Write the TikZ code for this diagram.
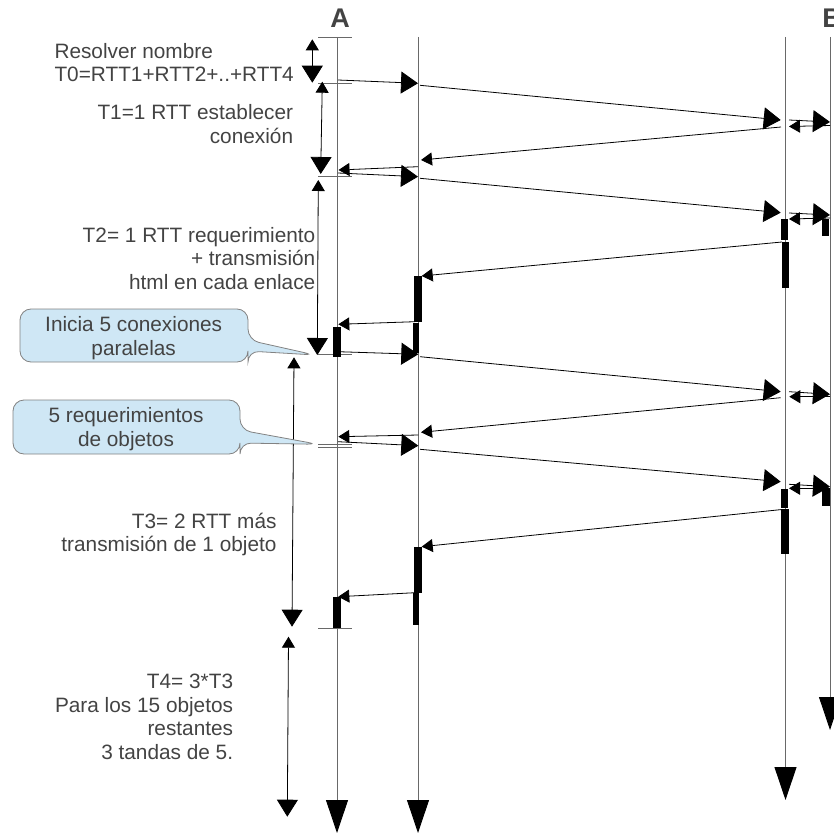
\documentclass[tikz,border=0pt]{standalone}
\usepackage{fontspec}
\setmainfont{Liberation Sans}
\usetikzlibrary{arrows.meta}
\definecolor{txtgray}{RGB}{67,67,67}
\definecolor{linegray}{RGB}{105,105,105}
\definecolor{bubblefill}{RGB}{207,231,245}
\definecolor{bubbledraw}{RGB}{130,130,130}

\begin{document}
\begin{tikzpicture}[x=1pt,y=-1pt,
    lbl/.style={text=txtgray,font=\fontsize{20.8}{23.5}\selectfont,inner sep=0pt},
    head/.style={text=txtgray,font=\bfseries\fontsize{27}{30}\selectfont,inner sep=0pt},
    lifeline/.style={draw=linegray,line width=0.9pt,-{Triangle[length=33pt,width=22pt,color=black]}},
    msg/.style={line width=0.8pt,-{Triangle[length=17pt,width=22pt]}},
    ack/.style={line width=0.8pt,-{Triangle[length=11pt,width=13pt]}},
    span/.style={line width=0.8pt,{Triangle[length=11pt,width=13pt]}-{Triangle[length=17pt,width=21pt]}},
    tick/.style={draw=linegray,line width=0.8pt},
    bubble/.style={fill=bubblefill,draw=bubbledraw,line width=0.8pt,rounded corners=11pt}]
    \useasboundingbox (0,0) rectangle (833,834);
    \def\xA{337}
    \def\xM{418}
    \def\xR{785.5}
    \def\xB{830}

    % Lifelines
    \draw[lifeline] (\xA,37) -- (\xA,833);
    \draw[lifeline] (\xM,37) -- (\xM,833);
    \draw[lifeline] (\xR,37) -- (\xR,800);
    \draw[lifeline] (\xB,37) -- (\xB,730);
    \node[head] (hA) at (340,18) {A};
    \node[head] (hB) at (832,18) {B};

    % Ticks on A
    \foreach \y in {37.3,83.3,176,354.3,444,447.3,628.3} {
        \draw[tick] (318.3,\y) -- (351.7,\y);
      }

    % Time spans
    \draw[span] (312.3,39.3) -- (312.3,82.7);
    \draw[span] (322.3,81.7) -- (320.7,174);
    \draw[span] (318.3,180) -- (317.3,355);
    \draw[span] (294,357.3) -- (292,626.7);
    \draw[span] (288.5,636.7) -- (287.3,816.7);

    % Connection 1
    \draw[msg] (338,80) -- (\xM,83.3);
    \draw[msg] (420,85.3) -- (780.7,120);
    \draw[msg] (789,120) -- (\xB,122);
    \draw[ack] (\xB,125.5) -- (789,126.5);
    \draw[ack] (781,127) -- (421,160);
    \draw[ack] (418,166.7) -- (338.5,170);
    \draw[msg] (338,173) -- (\xM,176.7);

    % html
    \draw[msg] (420,178.3) -- (780.7,212.7);
    \draw[msg] (789,213) -- (\xB,215);
    \draw[ack] (\xB,218) -- (789,219);
    \fill (822,219) rectangle (829.3,236);
    \fill (780.7,219) rectangle (788.3,240);
    \fill (781.7,241.7) rectangle (788.7,288);
    \draw[ack] (782,242) -- (421.7,276);
    \fill (414.3,276) rectangle (421.7,321.7);
    \fill (412.7,322.7) rectangle (419.3,353.3);
    \draw[ack] (415,321.7) -- (338.3,324.3);
    \fill (333.3,326.7) rectangle (340.7,356.7);
    \draw[msg] (338.3,351.7) -- (418.3,354.3);

    % Connection 2
    \draw[msg] (420,356.7) -- (780.7,391.7);
    \draw[msg] (789,391.7) -- (\xB,394.3);
    \draw[ack] (\xB,396.7) -- (789.3,396.7);
    \draw[ack] (780.7,397.7) -- (421,432.3);
    \draw[ack] (418.3,435) -- (338.3,436.7);
    \draw[msg] (338,441.7) -- (418.3,445.7);

    % Objects
    \draw[msg] (420,449.3) -- (780.7,481.7);
    \draw[msg] (789,484.3) -- (\xB,486.7);
    \draw[ack] (\xB,488.3) -- (789,488.3);
    \fill (822.3,488) rectangle (830,506);
    \fill (780.7,489) rectangle (788,508);
    \fill (781,509) rectangle (789,554);
    \draw[ack] (782,509.5) -- (421.7,546.7);
    \fill (414.3,546.7) rectangle (422,593.3);
    \fill (412.7,593.3) rectangle (419.3,625);
    \draw[ack] (415,592.7) -- (338.3,596.7);
    \fill (333.3,597.3) rectangle (341,628.3);

    % Callouts
    \draw[bubble] (315,355) -- (248,340) -- (248,309) -- (20,309) -- (20,362) -- (248,362) -- (248,351) -- cycle;
    \node[lbl,align=center,anchor=base] (inicia) at (133.7,355) {Inicia 5 conexiones\\paralelas};
    \draw[bubble] (318.3,444.3) -- (240,430) -- (240,400) -- (13,400) -- (13,454) -- (240,454) -- (240,443) -- cycle;
    \node[lbl,align=center,anchor=base] (reqs) at (126,446) {5 requerimientos\\de objetos};

    % Labels
    \node[lbl,align=left,anchor=base west] (t0) at (54.3,81.7) {Resolver nombre\\T0=RTT1+RTT2+..+RTT4};
    \node[lbl,align=right,anchor=base east] (t1) at (293.3,143.3) {T1=1 RTT establecer\\conexión};
    \node[lbl,align=right,anchor=base east] (t2) at (315.5,289) {T2= 1 RTT requerimiento\\+ transmisión\\html en cada enlace};
    \node[lbl,align=right,anchor=base east] (t3) at (276.7,551.7) {T3= 2 RTT más\\transmisión de 1 objeto};
    \node[lbl,align=right,anchor=base east] (t4) at (233.3,759) {T4= 3*T3\\Para los 15 objetos\\restantes\\3 tandas de 5.};
  \end{tikzpicture}
\end{document}
